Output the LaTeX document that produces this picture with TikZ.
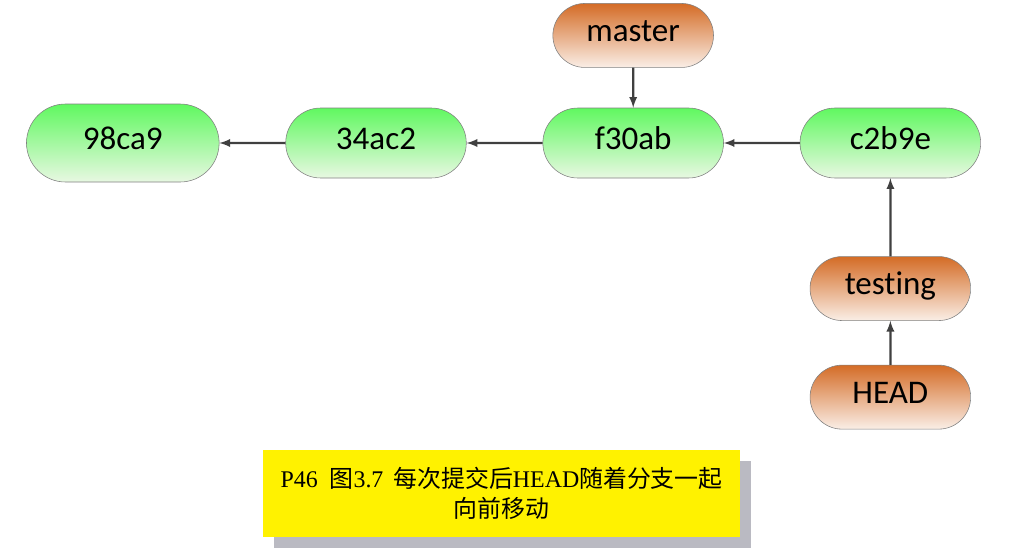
\documentclass[tikz,border=0pt]{standalone}
\usepackage{fontspec}
\setmainfont{Liberation Serif}
\newfontfamily\calibri[Ligatures=NoCommon]{Carlito}
\newfontfamily\cjk{Noto Sans CJK SC}
\usepackage{tikz}
\usetikzlibrary{matrix,positioning,arrows,shapes,shadows}
\definecolor{commitgreen}{RGB}{96,248,96}
\definecolor{commitpale}{RGB}{232,248,226}
\definecolor{branchorange}{RGB}{212,108,38}
\definecolor{branchpale}{RGB}{250,238,230}
\definecolor{arrowgray}{RGB}{64,64,64}
\definecolor{shadowgray}{RGB}{186,186,194}
\tikzset{
  commit/.style={rounded rectangle, draw=gray, top color=commitgreen, bottom color=commitpale,
                 minimum width=4.75cm, minimum height=1.75cm},
  branch/.style={rounded rectangle, draw=gray, top color=branchorange, bottom color=branchpale,
                 minimum width=4.25cm, minimum height=1.6cm},
  link/.style={->, >=latex, draw=arrowgray, line width=1.6pt},
  caption/.style={fill=yellow, minimum width=11.925cm, minimum height=2.175cm, inner sep=0pt,
                  align=center, font=\fontsize{17}{21}\selectfont,
                  drop shadow={shadow xshift=.28cm, shadow yshift=-.28cm, fill=shadowgray, opacity=1}}
}

\begin{document}
\begin{tikzpicture}
\useasboundingbox (0,0) rectangle (25.375,-13.975);
\matrix (m) [matrix of nodes, row sep=0.9cm, column sep=1.9cm, text height=2.2ex, text depth=0.3ex,
             nodes={font=\calibri\fontsize{23.5}{27}\selectfont},
             matrix anchor=m-2-2.center] at (9.4,-3.575)
{  &[-0.25cm] & |[branch]| master & \\
   |[commit, minimum width=5.05cm, minimum height=1.95cm]| 98ca9 &[-0.25cm] |[commit]| 34ac2 & |[commit]| f30ab & |[commit]| c2b9e \\[0.95cm]
   &[-0.25cm] & & |[branch]| testing \\[0.2cm]
   &[-0.25cm] & & |[branch]| HEAD \\ };
\path
(m-2-2) edge[link] (m-2-1)
(m-2-3) edge[link] (m-2-2)
(m-2-4) edge[link] (m-2-3)
(m-1-3) edge[link] (m-2-3);
\path
(m-3-4) edge[link] (m-2-4)
(m-4-4) edge[link] (m-3-4);
\node[caption] (note) at (12.54,-12.34)
  {P46\ \ {\cjk 图}3.7\ \,{\cjk 每次提交后}HEAD{\cjk 随着分支一起}\\{\cjk 向前移动}};
\end{tikzpicture}
\end{document}
